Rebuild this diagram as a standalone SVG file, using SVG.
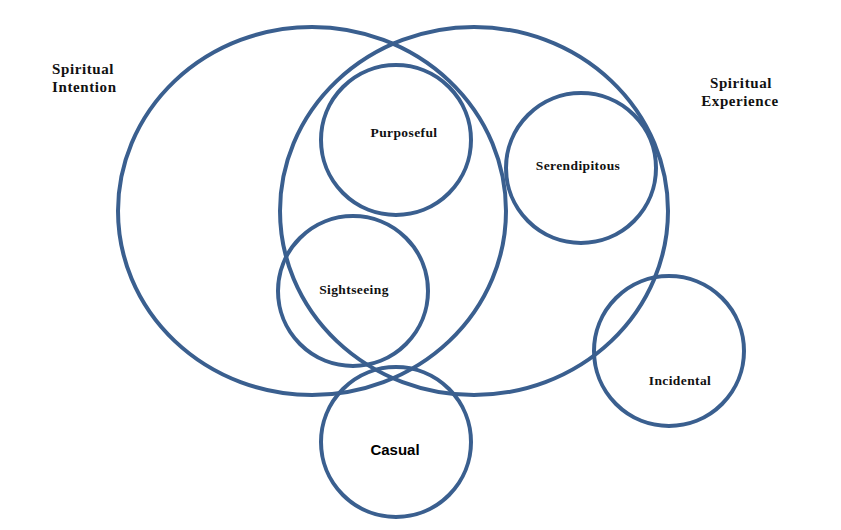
<svg xmlns="http://www.w3.org/2000/svg" width="841" height="530" viewBox="0 0 841 530">
<style>
.c{fill:none;stroke:#3A5F8F;stroke-width:4}
.t{font-family:"Liberation Serif",serif;font-weight:bold;font-size:15px;letter-spacing:0.6px;fill:#111}
.s{font-family:"Liberation Serif",serif;font-weight:bold;font-size:13.5px;letter-spacing:0.4px;fill:#111}
.k{font-family:"Liberation Sans",sans-serif;font-weight:bold;font-size:15px;fill:#000}
</style>
<rect width="841" height="530" fill="#fff"/>
<g id="intention"><ellipse class="c" cx="312" cy="211" rx="194" ry="184"/><text class="t" x="52" y="74">Spiritual</text><text class="t" x="52" y="92">Intention</text></g>
<g id="experience"><ellipse class="c" cx="474" cy="211" rx="194" ry="184"/><text class="t" x="741" y="88" text-anchor="middle">Spiritual</text><text class="t" x="740" y="106" text-anchor="middle">Experience</text></g>
<g id="purposeful"><circle class="c" cx="396" cy="140" r="75"/><text class="s" x="404" y="137" text-anchor="middle">Purposeful</text></g>
<g id="serendipitous"><circle class="c" cx="581" cy="168" r="75"/><text class="s" x="578" y="170" text-anchor="middle">Serendipitous</text></g>
<g id="sightseeing"><circle class="c" cx="353" cy="291" r="75"/><text class="s" x="354" y="294" text-anchor="middle">Sightseeing</text></g>
<g id="incidental"><circle class="c" cx="669" cy="351" r="75"/><text class="s" x="680" y="385" text-anchor="middle">Incidental</text></g>
<g id="casual"><circle class="c" cx="396" cy="442" r="75"/><text class="k" x="395" y="455" text-anchor="middle">Casual</text></g>
<g id="connectors"></g>
</svg>
